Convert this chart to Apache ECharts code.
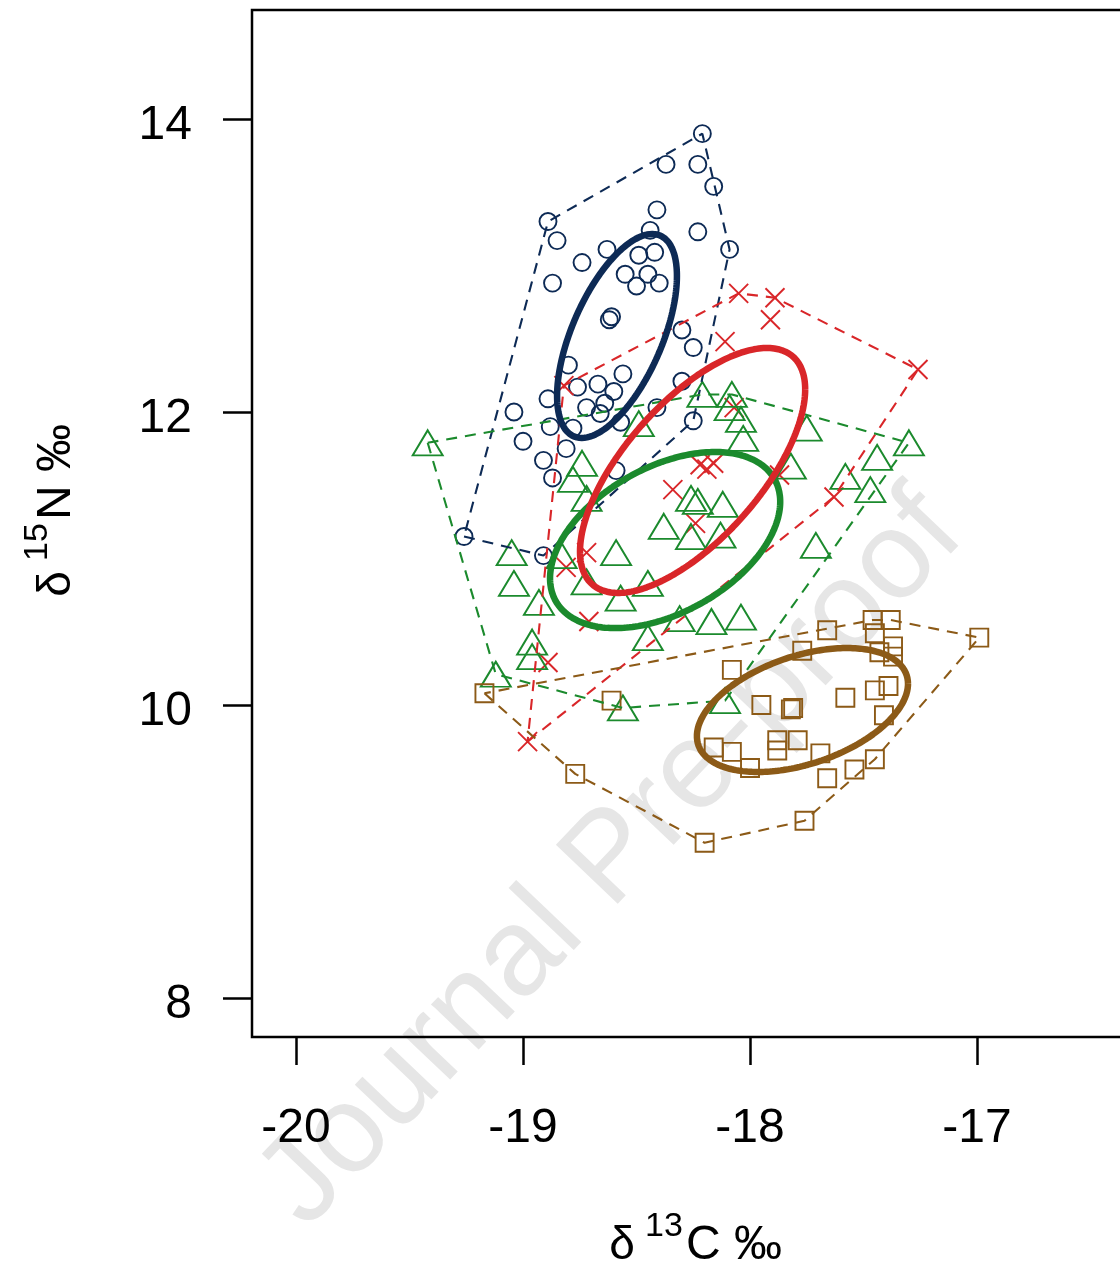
<!DOCTYPE html>
<html><head><meta charset="utf-8">
<script src="https://cdn.jsdelivr.net/npm/echarts@6/dist/echarts.min.js"></script>
<style>html,body{margin:0;padding:0;background:#fff}#c{width:1120px;height:1267px}</style>
</head><body><div id="c"></div>
<script>
// ---- axis ticks ----
const xTicks = [-20, -19, -18, -17];
const yTicks = [8, 10, 12, 14];

// ---- data: [d13C, d15N] ----
const blueCircles = [
  [-18.21,13.90],[-18.37,13.69],[-18.23,13.69],[-18.16,13.54],[-18.41,13.38],[-18.89,13.30],
  [-18.85,13.17],[-18.23,13.23],[-18.09,13.11],[-18.74,13.02],[-18.63,13.11],[-18.44,13.24],
  [-18.49,13.07],[-18.42,13.09],[-18.55,12.94],[-18.45,12.94],[-18.50,12.86],[-18.40,12.88],
  [-18.87,12.88],[-18.61,12.65],[-18.62,12.63],[-18.30,12.56],[-18.25,12.44],[-18.80,12.32],
  [-18.56,12.26],[-18.76,12.17],[-18.67,12.19],[-18.60,12.14],[-18.89,12.09],[-18.72,12.03],
  [-18.64,12.06],[-18.66,11.99],[-19.04,12.00],[-18.30,12.21],[-18.41,12.03],[-18.25,11.94],
  [-18.88,11.90],[-19.00,11.80],[-18.78,11.89],[-18.57,11.93],[-18.81,11.75],[-18.91,11.67],
  [-18.87,11.55],[-18.59,11.60],[-19.26,11.15],[-18.91,11.02]
];
const redCrosses = [
  [-18.05,12.81],[-17.89,12.78],[-17.91,12.63],[-18.11,12.48],[-17.26,12.29],[-18.07,12.03],
  [-18.82,12.18],[-18.22,11.64],[-18.19,11.61],[-18.16,11.65],[-17.87,11.57],[-17.63,11.42],
  [-18.34,11.47],[-18.24,11.24],[-18.72,11.04],[-18.81,10.94],[-18.71,10.57],[-18.89,10.29],
  [-18.98,9.75]
];
const greenTriangles = [
  [-19.42,11.79],[-17.30,11.79],[-19.12,10.21],[-18.56,9.98],[-18.11,10.03],[-19.05,11.04],
  [-19.04,10.83],[-18.93,10.70],[-18.96,10.43],[-18.96,10.33],[-18.74,11.65],[-18.78,11.54],
  [-18.72,11.41],[-18.59,11.04],[-18.72,10.84],[-18.57,10.73],[-18.45,10.83],[-18.45,10.46],
  [-18.31,10.59],[-18.17,10.57],[-18.04,10.60],[-18.38,11.22],[-18.26,11.41],[-18.23,11.39],
  [-18.12,11.37],[-18.26,11.15],[-18.13,11.16],[-18.49,11.92],[-18.21,12.12],[-18.08,12.12],
  [-18.09,12.03],[-18.04,11.95],[-18.03,11.82],[-17.75,11.89],[-17.82,11.63],[-17.58,11.56],
  [-17.44,11.69],[-17.47,11.47],[-17.71,11.09],[-18.83,11.02]
];
const brownSquares = [
  [-19.17,10.08],[-18.77,9.53],[-18.20,9.06],[-17.76,9.21],[-16.99,10.46],[-18.61,10.03],
  [-18.08,10.24],[-17.95,10.00],[-17.82,9.97],[-17.81,9.98],[-17.58,10.05],[-17.45,10.10],
  [-17.39,10.13],[-17.41,9.93],[-18.16,9.71],[-18.08,9.68],[-18.00,9.57],[-17.88,9.76],
  [-17.88,9.69],[-17.79,9.76],[-17.69,9.67],[-17.66,9.50],[-17.54,9.56],[-17.45,9.63],
  [-17.66,10.51],[-17.77,10.37],[-17.46,10.58],[-17.38,10.58],[-17.45,10.49],[-17.37,10.40],
  [-17.37,10.33],[-17.43,10.36]
];
// standard ellipse statistics per group: [mean d13C, mean d15N, sd d13C, sd d15N, correlation]
const blueEllipse  = [-18.586, 12.519, 0.264, 0.696, 0.588];
const redEllipse   = [-18.253, 11.601, 0.496, 0.836, 0.662];
const greenEllipse = [-18.374, 11.126, 0.507, 0.601, 0.435];
const brownEllipse = [-17.769,  9.966, 0.465, 0.423, 0.422];

const FONT = '"Liberation Sans", Arial, Helvetica, sans-serif';
const COLORS = { blue: '#0d2a55', red: '#d92629', green: '#1b8a2d', brown: '#8c5a17' };

function convexHull(points) {
  const p = points.map(d => d.slice()).sort((a, b) => a[0] - b[0] || a[1] - b[1]);
  const cross = (o, a, b) => (a[0]-o[0])*(b[1]-o[1]) - (a[1]-o[1])*(b[0]-o[0]);
  const lower = [], upper = [];
  for (const q of p) { while (lower.length >= 2 && cross(lower[lower.length-2], lower[lower.length-1], q) <= 0) lower.pop(); lower.push(q); }
  for (let i = p.length - 1; i >= 0; i--) { const q = p[i]; while (upper.length >= 2 && cross(upper[upper.length-2], upper[upper.length-1], q) <= 0) upper.pop(); upper.push(q); }
  upper.pop(); lower.pop();
  const h = lower.concat(upper);
  h.push(h[0]);
  return h;
}
function ellipsePath(e) {
  const [mx, my, sx, sy, r] = e, out = [], n = 240, k = Math.sqrt(1 - r*r);
  for (let i = 0; i <= n; i++) {
    const t = 2 * Math.PI * i / n;
    out.push([mx + sx * Math.cos(t), my + sy * (r * Math.cos(t) + k * Math.sin(t))]);
  }
  return out;
}

const crossPath = 'path://M0,0L20,20M20,0L0,20';
const groups = [
  { pts: blueCircles, ell: blueEllipse, color: COLORS.blue, symbol: 'circle', size: 17 },
  { pts: redCrosses, ell: redEllipse, color: COLORS.red, symbol: crossPath, size: 19 },
  { pts: greenTriangles, ell: greenEllipse, color: COLORS.green, symbol: 'triangle', size: [30, 25] },
  { pts: brownSquares, ell: brownEllipse, color: COLORS.brown, symbol: 'rect', size: 18 }
];

const series = [];
groups.forEach((g, i) => {
  series.push({
    type: 'scatter', data: g.pts, symbol: g.symbol, symbolSize: g.size, z: 3,
    itemStyle: { color: 'rgba(0,0,0,0)', borderColor: g.color, borderWidth: 1.9, opacity: 1 },
    emphasis: { disabled: true }, silent: true
  });
});
groups.forEach((g, i) => {
  series.push({
    type: 'line', data: convexHull(g.pts), showSymbol: false, symbol: 'none', z: 4,
    lineStyle: { color: g.color, width: 2.1, type: [11, 8] }, silent: true, emphasis: { disabled: true }
  });
});
[0, 2, 1, 3].forEach(i => {
  const g = groups[i];
  series.push({
    type: 'line', data: ellipsePath(g.ell), showSymbol: false, symbol: 'none', z: 5, smooth: false,
    lineStyle: { color: g.color, width: 6.5 }, silent: true, emphasis: { disabled: true }
  });
});

const chart = echarts.init(document.getElementById('c'), null, { renderer: 'canvas' });
const titleStyle = (t, x, y, size) => ({ type: 'text', x: x, y: y, style: { text: t, font: size + 'px ' + FONT, fill: '#000', align: 'center', verticalAlign: 'middle' } });
chart.setOption({
  animation: false,
  backgroundColor: '#fff',
  grid: { left: 252, top: 10, width: 878, height: 1027, show: true, borderColor: '#000', borderWidth: 2.5,
          backgroundColor: 'rgba(0,0,0,0)', containLabel: false, outerBoundsMode: 'none' },
  xAxis: {
    type: 'value', min: -20.194, max: -16.326,
    axisLine: { show: false }, splitLine: { show: false },
    axisTick: { show: true, customValues: xTicks, length: 28, lineStyle: { color: '#000', width: 2.5 } },
    axisLabel: { customValues: xTicks, margin: 92, verticalAlign: 'middle', fontSize: 48, color: '#000', fontFamily: FONT }
  },
  yAxis: {
    type: 'value', min: 7.734, max: 14.744,
    axisLine: { show: false }, splitLine: { show: false },
    axisTick: { show: true, customValues: yTicks, length: 29, lineStyle: { color: '#000', width: 2.5 } },
    axisLabel: { customValues: yTicks, margin: 60, align: 'right', verticalAlign: 'middle',
      formatter: '{a|{value}}',
      rich: { a: { fontSize: 48, color: '#000', fontFamily: FONT, padding: [14, 0, 0, 0] } } }
  },
  graphic: [
    { type: 'text', x: 612, y: 860, rotation: 0.81, z: -10,
      style: { text: 'Journal Pre-proof', font: '124px ' + FONT, fill: '#e6e6e6', align: 'center', verticalAlign: 'middle' } },
    { type: 'group', x: 622, y: 1246, children: [
      titleStyle('δ', 0, 0, 46), titleStyle('13', 42, -19, 34),
      { type: 'text', x: 64, y: 0, style: { text: 'C ‰', font: '48px ' + FONT, fill: '#000', align: 'left', verticalAlign: 'middle' } }
    ] },
    { type: 'group', x: 57, y: 584, rotation: Math.PI / 2, children: [
      titleStyle('δ', 0, 0, 46), titleStyle('15', 42, -19, 34),
      { type: 'text', x: 64, y: 0, style: { text: 'N ‰', font: '48px ' + FONT, fill: '#000', align: 'left', verticalAlign: 'middle' } }
    ] }
  ],
  series: series
});
</script></body></html>
